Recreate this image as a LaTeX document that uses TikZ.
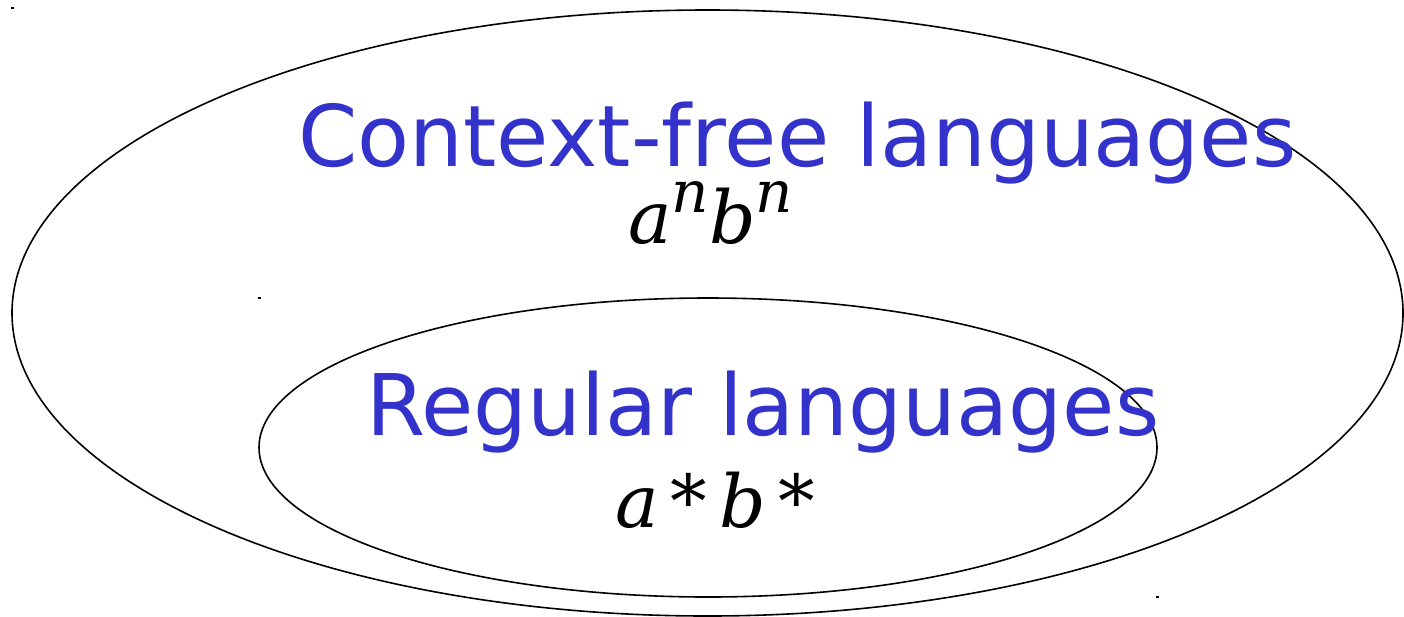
\documentclass[tikz,border=0pt]{standalone}
\usepackage{fontspec}
\setmainfont{DejaVu Sans}
\newfontfamily\exfont{DejaVu Serif}[UprightFont=* Italic]
\definecolor{setblue}{RGB}{51,51,204}
\begin{document}
\begin{tikzpicture}[x=1pt,y=-1pt,
  setline/.style={draw=black,line width=1.6pt},
  setlabel/.style={text=setblue,font=\fontsize{85}{90}\selectfont,inner sep=0pt,anchor=base west},
  example/.style={text=black,font=\exfont\fontsize{73}{80}\selectfont,inner sep=0pt,anchor=base west},
  speck/.style={fill=black,draw=none}]
\useasboundingbox (0,0) rectangle (1404,616);
\draw[setline] (707.5,313) ellipse [x radius=695.5, y radius=303];
\draw[setline] (708,447.5) ellipse [x radius=449, y radius=149.5];
\node[setlabel] (cfl) at (298,166) {Context-free languages};
\node[setlabel] (reg) at (366,435) {Regular languages};
\node[example] (anbn) at (628,243) {a\raisebox{0.42em}{\fontsize{58}{60}\selectfont n}b\raisebox{0.42em}{\fontsize{58}{60}\selectfont n}};
\node[example] (astar) at (615,527) {a\,*\,b\,*};
\fill[speck] (11,7) rectangle (14,9);
\fill[speck] (258,297) rectangle (261,299);
\fill[speck] (1156,596) rectangle (1159,598);
\end{tikzpicture}
\end{document}
